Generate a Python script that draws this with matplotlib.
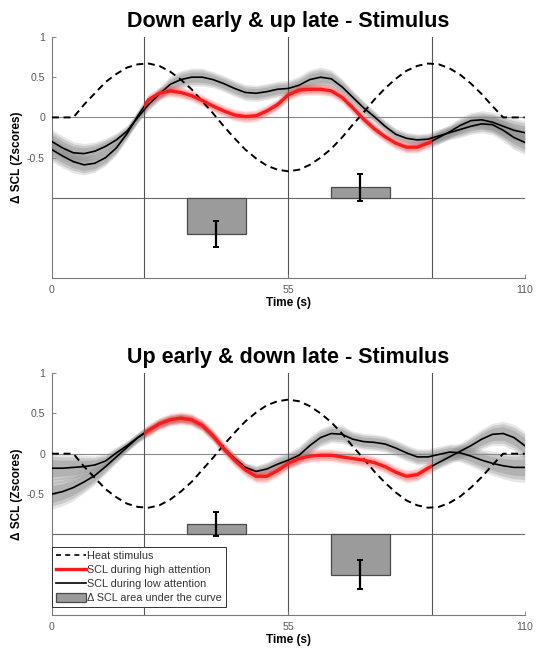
import numpy as np
import matplotlib
matplotlib.use("Agg")
import matplotlib.pyplot as plt
from matplotlib.patches import Rectangle, Patch
from matplotlib.lines import Line2D

plt.rcParams['font.family'] = ['Liberation Sans', 'DejaVu Sans']

# ---- data -----------------------------------------------------------------
time_s = np.arange(0, 110.01, 2.5)          # 45 samples, 0..110 s
window_edges = [21.5, 55, 88.5]             # stimulus windows (s)
bar_times = [38.25, 71.75]                  # centre of each window

# heat stimulus (z units)
stim_top = [0, 0, 0, 0.16, 0.30, 0.44, 0.54, 0.62, 0.66, 0.67, 0.64, 0.57,
            0.47, 0.35, 0.20, 0.05, -0.11, -0.26, -0.40, -0.51, -0.60, -0.65,
            -0.67, -0.65, -0.59, -0.50, -0.39, -0.25, -0.09, 0.06, 0.22, 0.36,
            0.48, 0.58, 0.64, 0.67, 0.66, 0.61, 0.53, 0.42, 0.29, 0.14, 0, 0, 0]
stim_bot = [0, 0, 0, -0.16, -0.30, -0.44, -0.54, -0.62, -0.66, -0.67, -0.64,
            -0.57, -0.47, -0.35, -0.20, -0.05, 0.11, 0.26, 0.40, 0.51, 0.60,
            0.65, 0.67, 0.65, 0.59, 0.50, 0.39, 0.25, 0.09, -0.06, -0.22,
            -0.36, -0.48, -0.58, -0.64, -0.67, -0.66, -0.61, -0.53, -0.42,
            -0.29, -0.14, 0, 0, 0]

# Down early & up late: SCL during high / low attention (mean, sem)
top_high = [-0.40, -0.48, -0.55, -0.59, -0.57, -0.50, -0.38, -0.20, 0.02,
            0.22, 0.30, 0.33, 0.31, 0.27, 0.21, 0.14, 0.08, 0.03, 0.01, 0.02,
            0.08, 0.16, 0.28, 0.34, 0.35, 0.35, 0.33, 0.25, 0.12, -0.02,
            -0.14, -0.24, -0.32, -0.37, -0.37, -0.32, -0.25, -0.18, -0.10,
            -0.04, -0.03, -0.06, -0.11, -0.16, -0.19]
top_high_sem = [0.12, 0.12, 0.11, 0.10, 0.09, 0.08, 0.07, 0.06, 0.06,
                0.06, 0.06, 0.06, 0.06, 0.06, 0.06, 0.06, 0.06, 0.06, 0.06,
                0.06, 0.06, 0.06, 0.06, 0.06, 0.06, 0.06, 0.06, 0.06, 0.06,
                0.06, 0.06, 0.06, 0.06, 0.06, 0.06, 0.06,
                0.07, 0.07, 0.08, 0.08, 0.09, 0.10, 0.11, 0.12, 0.12]
top_low = [-0.30, -0.38, -0.44, -0.45, -0.42, -0.36, -0.28, -0.17, 0.00,
           0.16, 0.29, 0.41, 0.47, 0.50, 0.50, 0.47, 0.42, 0.36, 0.31, 0.30,
           0.32, 0.35, 0.36, 0.40, 0.47, 0.50, 0.48, 0.38, 0.25, 0.12, 0.01,
           -0.11, -0.21, -0.26, -0.28, -0.27, -0.23, -0.19, -0.15, -0.11,
           -0.08, -0.09, -0.16, -0.25, -0.31]
top_low_sem = [0.12, 0.12, 0.11, 0.10, 0.09, 0.08, 0.07, 0.06, 0.06,
               0.06, 0.07, 0.08, 0.09, 0.09, 0.09, 0.08, 0.08, 0.08, 0.08,
               0.08, 0.08, 0.08, 0.08, 0.09, 0.10, 0.10, 0.09, 0.08, 0.07,
               0.07, 0.06, 0.06, 0.06, 0.06, 0.06, 0.06,
               0.07, 0.07, 0.08, 0.08, 0.09, 0.10, 0.11, 0.12, 0.12]

# Up early & down late
bot_high = [-0.50, -0.47, -0.42, -0.35, -0.27, -0.16, -0.04, 0.08, 0.20,
            0.29, 0.37, 0.42, 0.44, 0.42, 0.35, 0.22, 0.06, -0.08, -0.20,
            -0.28, -0.28, -0.21, -0.12, -0.06, -0.03, -0.02, -0.02, -0.04,
            -0.06, -0.08, -0.11, -0.16, -0.23, -0.28, -0.26, -0.18, -0.11,
            -0.04, 0.03, 0.10, 0.18, 0.24, 0.25, 0.20, 0.10]
bot_high_sem = [0.15, 0.14, 0.13, 0.11, 0.09, 0.07, 0.06, 0.05, 0.05,
                0.065, 0.065, 0.065, 0.065, 0.065, 0.065, 0.065, 0.065, 0.065,
                0.065, 0.065, 0.065, 0.065, 0.065, 0.065, 0.065, 0.065, 0.065,
                0.065, 0.065, 0.065, 0.065, 0.065, 0.065, 0.065, 0.065, 0.065,
                0.06, 0.07, 0.08, 0.09, 0.10, 0.11, 0.12, 0.13, 0.14]
bot_low = [-0.18, -0.18, -0.17, -0.16, -0.14, -0.09, 0.01, 0.10, 0.20,
           0.29, 0.37, 0.42, 0.44, 0.42, 0.35, 0.22, 0.07, -0.06, -0.17,
           -0.22, -0.19, -0.13, -0.08, -0.02, 0.10, 0.20, 0.25, 0.24, 0.18,
           0.15, 0.14, 0.12, 0.07, 0.01, -0.04, -0.04, -0.01, 0.02, 0.01,
           -0.03, -0.08, -0.12, -0.15, -0.17, -0.17]
bot_low_sem = [0.15, 0.14, 0.13, 0.11, 0.09, 0.07, 0.06, 0.05, 0.05,
               0.05, 0.05, 0.05, 0.05, 0.05, 0.05, 0.05, 0.05, 0.05, 0.05,
               0.06, 0.07, 0.08, 0.08, 0.09, 0.09, 0.09, 0.09, 0.09,
               0.08, 0.08, 0.08, 0.08, 0.08, 0.08, 0.08, 0.08,
               0.08, 0.08, 0.09, 0.10, 0.11, 0.12, 0.13, 0.14, 0.15]

# area under the curve difference per window (relative to baseline -1)
top_auc = [-0.45, 0.13]
top_auc_err = [0.16, 0.17]
bot_auc = [0.13, -0.50]
bot_auc_err = [0.15, 0.18]

yticks = [-0.5, 0, 0.5, 1]
ytick_labels = ['-0.5', '0', '0.5', '1']
xticks = [0, 55, 110]
xtick_labels = ['0', '55', '110']

legend_labels = ['Heat stimulus', 'SCL during high attention',
                 'SCL during low attention', '\u0394 SCL area under the curve']

# ---- drawing ----------------------------------------------------------------
GRAY_BAND = '#8c8c8c'
RED = '#ff1a1a'
BAR_BASE = -1.0


def soft_band(ax, x, y, sem, color, alpha, clip=None, z=1):
    """Shaded error band with a soft edge (three stacked layers)."""
    y = np.asarray(y)
    sem = np.asarray(sem)
    for frac, a in ((1.25, 0.35), (1.0, 0.5), (0.7, 0.6)):
        for c in (clip or [None]):
            pc = ax.fill_between(x, y - frac * sem, y + frac * sem,
                                 color=color, alpha=alpha * a, lw=0, zorder=z)
            if c is not None:
                pc.set_clip_path(Rectangle((c[0], -2), c[1] - c[0], 3,
                                           transform=ax.transData))


def panel(ax, title, stim, high, high_sem, low, low_sem, auc, auc_err,
          show_legend=False):
    t = time_s
    lo, mid, hi = window_edges
    outside = [(0, lo), (hi, 110)]

    # guide lines
    ax.axhline(0, color='#8a8a8a', lw=0.8, zorder=1.5)
    ax.axhline(BAR_BASE, color='#6a6a6a', lw=0.8, zorder=1.5)
    for xv in window_edges:
        ax.axvline(xv, color='#555555', lw=0.8, zorder=1.5)

    # error bands
    soft_band(ax, t, low, low_sem, GRAY_BAND, 0.62, z=1)
    soft_band(ax, t, high, high_sem, GRAY_BAND, 0.62, clip=outside, z=1)
    soft_band(ax, t, high, high_sem, RED, 0.32, clip=[(lo, hi)], z=1.2)

    # stimulus
    ax.plot(t, stim, color='black', lw=1.4, ls=(0, (3.6, 2.4)), zorder=3)

    # SCL curves
    ax.plot(t, low, color='black', lw=1.2, zorder=4)
    ax.plot(t, high, color='black', lw=1.2, zorder=4)
    red_line, = ax.plot(t, high, color=RED, lw=2.4, zorder=5,
                        solid_capstyle='butt')
    red_line.set_clip_path(Rectangle((lo, -2), hi - lo, 3,
                                     transform=ax.transData))

    # AUC bars hanging from the baseline
    ax.bar(bar_times, auc, width=13.7, bottom=BAR_BASE, color='#9b9b9b',
           edgecolor='#4a4a4a', linewidth=0.9, zorder=2.5)
    ax.errorbar(bar_times, [BAR_BASE + v for v in auc], yerr=auc_err,
                fmt='none', ecolor='black', elinewidth=1.6, capsize=2,
                capthick=1.4, zorder=6)

    ax.set_xlim(0, 110)
    ax.set_ylim(-2, 1)
    ax.set_xticks(xticks)
    ax.set_xticklabels(xtick_labels)
    ax.set_yticks(yticks)
    ax.set_yticklabels(ytick_labels)
    ax.tick_params(direction='in', length=3, width=0.6, color='#777777',
                   labelsize=7.6, labelcolor='#5a5a5a', pad=5)
    for side in ('top', 'right'):
        ax.spines[side].set_visible(False)
    for side in ('left', 'bottom'):
        ax.spines[side].set_color('#7a7a7a')
        ax.spines[side].set_linewidth(0.8)

    ax.set_title(title, fontsize=15.5, fontweight='bold', pad=7)
    ax.set_xlabel('Time (s)', fontsize=8.5, fontweight='bold', labelpad=1.5)
    ax.set_ylabel('\u0394 SCL (Zscores)', fontsize=8.5, fontweight='bold')
    ax.yaxis.set_label_coords(-0.062, 0.5)

    if show_legend:
        handles = [
            Line2D([], [], color='black', lw=1.2, ls=(0, (3, 2.5))),
            Line2D([], [], color=RED, lw=2.4),
            Line2D([], [], color='black', lw=1.2),
            Patch(facecolor='#9b9b9b', edgecolor='#4a4a4a', lw=0.9),
        ]
        leg = ax.legend(handles, legend_labels, loc='lower left',
                        bbox_to_anchor=(0.0, 8 / 242), borderaxespad=0,
                        fontsize=7.8, handlelength=2.8, handleheight=1.0,
                        handletextpad=0.1, labelspacing=0.32, borderpad=0.35,
                        frameon=True, fancybox=False, framealpha=1,
                        edgecolor='#333333')
        leg.get_frame().set_linewidth(0.7)
        leg.set_zorder(7)
        for txt in leg.get_texts():
            txt.set_color('#333333')


fig = plt.figure(figsize=(5.37, 6.52), dpi=100)
ax_top = fig.add_axes([0.0966, 0.5732, 0.8805, 0.3701])
ax_bot = fig.add_axes([0.0966, 0.0567, 0.8805, 0.3712])

panel(ax_top, 'Down early & up late - Stimulus', stim_top,
      top_high, top_high_sem, top_low, top_low_sem, top_auc, top_auc_err)
panel(ax_bot, 'Up early & down late - Stimulus', stim_bot,
      bot_high, bot_high_sem, bot_low, bot_low_sem, bot_auc, bot_auc_err,
      show_legend=True)

fig.savefig('out.png', dpi=100, facecolor='white')
